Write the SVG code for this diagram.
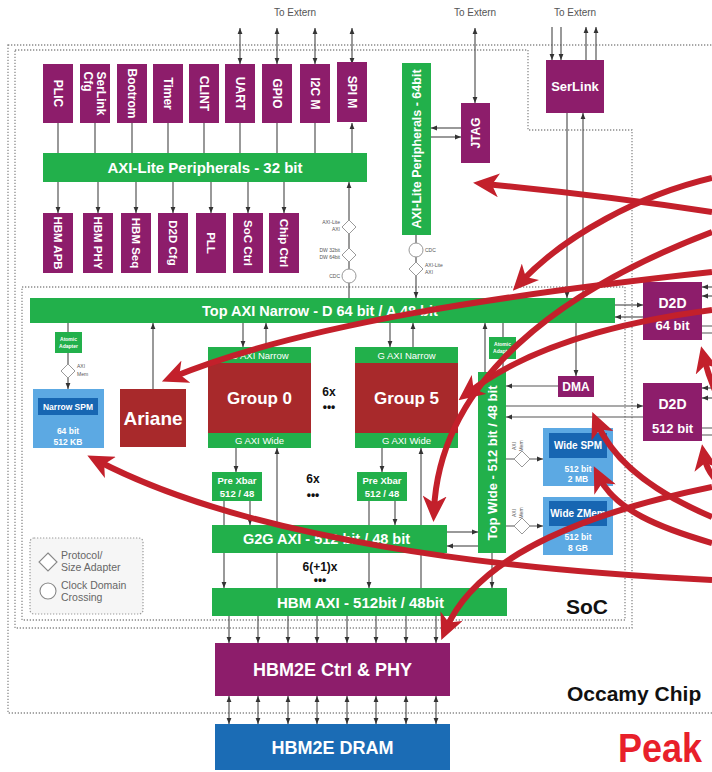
<svg xmlns="http://www.w3.org/2000/svg" width="712" height="772" viewBox="0 0 712 772">
<defs>
<marker id="ah" viewBox="0 0 10 10" refX="10" refY="5" markerWidth="6" markerHeight="6" markerUnits="userSpaceOnUse" orient="auto-start-reverse"><path d="M0,1 L10,5 L0,9 z" fill="#333"/></marker>
<marker id="ra" viewBox="0 0 26 24" refX="14" refY="12" markerWidth="26" markerHeight="24" markerUnits="userSpaceOnUse" orient="auto"><path d="M0,0 L26,12 L0,24 L7,12 z" fill="#c3202b"/></marker>
</defs>
<style>
.pu{fill:#8d1d6b}
.gr{fill:#22b04b}
.rd{fill:#a8292b}
.lb{fill:#5ca9e3}
.db{fill:#1766b2}
text{font-family:"Liberation Sans",Arial,sans-serif}
.w{fill:#fff;font-weight:bold;text-anchor:middle}
.wn{fill:#fff;text-anchor:middle}
.c{fill:none;stroke:#555;stroke-width:1.2;marker-end:url(#ah)}
.l{fill:none;stroke:#555;stroke-width:1.2}
.b{marker-start:url(#ah)}
.dot{fill:none;stroke:#8a8a8a;stroke-width:1.3;stroke-dasharray:1.3 1.7}
.ad{fill:#fff;stroke:#999;stroke-width:1}
.t{fill:#555;font-size:5px}
.k{fill:#111;font-weight:bold;text-anchor:middle}
.red{fill:none;stroke:#c3202b;stroke-width:6;marker-end:url(#ra)}
</style>
<rect width="712" height="772" fill="#fff"/>

<g id="borders">
<rect class="dot" x="8" y="45" width="720" height="668"/>
<path class="dot" d="M15,50 H528 V130 H632 V628 H15 Z"/>
<rect class="dot" x="22" y="287" width="603" height="333"/>
</g>

<g id="labels">
<text x="295" y="16" font-size="10" fill="#555" text-anchor="middle">To Extern</text>
<text x="475" y="16" font-size="10" fill="#555" text-anchor="middle">To Extern</text>
<text x="575" y="16" font-size="10" fill="#555" text-anchor="middle">To Extern</text>
<text x="566" y="614" font-size="21" font-weight="bold" fill="#111">SoC</text>
<text x="567" y="701" font-size="21" font-weight="bold" fill="#111">Occamy Chip</text>
<text x="618" y="762" font-size="40" font-weight="bold" fill="#e8202a" textLength="84" lengthAdjust="spacingAndGlyphs">Peak</text>
<text class="k" x="329" y="396" font-size="12">6x</text>
<text class="k" x="329" y="411" font-size="12">•••</text>
<text class="k" x="313" y="483" font-size="12">6x</text>
<text class="k" x="313" y="499" font-size="12">•••</text>
<text class="k" x="320" y="571" font-size="12">6(+1)x</text>
<text class="k" x="320" y="584" font-size="12">•••</text>
</g>

<g id="connectors">
<path class="c" d="M58,153V123M95,153V123M132,153V123M168,153V123M204,153V123M240,153V123M277,153V123M315,153V123M352,153V123"/>
<path class="c b" d="M240,28V64"/><path class="c b" d="M277,28V64"/><path class="c b" d="M315,28V64"/><path class="c b" d="M352,28V64"/>
<path class="c" d="M58,182V213"/><path class="c" d="M98,182V213"/><path class="c" d="M136,182V213"/><path class="c" d="M173,182V213"/><path class="c" d="M211,182V213"/><path class="c" d="M248,182V213"/><path class="c" d="M284,182V213"/>
<path class="c" d="M349,298V182"/>
<path class="c b" d="M475,28V103"/>
<path class="c" d="M461,128H431"/><path class="c" d="M431,137H461"/>
<path class="c" d="M416,235V298"/>
<path class="c" d="M552,27V60"/><path class="c" d="M561,27V60"/><path class="c" d="M586,60V27"/><path class="c" d="M596,60V27"/>
<path class="c" d="M567,113V298"/><path class="c" d="M583,298V113"/>
<path class="c" d="M615,305H643"/><path class="c" d="M643,317H615"/>
<path class="c" d="M712,287H702"/><path class="c" d="M712,296H702"/><path class="l" d="M702,326H712M702,333H712"/>
<path class="c" d="M712,388H702"/><path class="c" d="M712,398H702"/><path class="l" d="M702,428H712M702,435H712"/>
<path class="c" d="M506,406H643"/><path class="c" d="M643,417H506"/>
<path class="c" d="M576,323V376"/><path class="c" d="M558,386H506"/>
<path class="c" d="M485,372V323"/><path class="l" d="M503,323V337M503,359V372"/>
<path class="c" d="M506,459H543"/><path class="c" d="M506,526H543"/>
<path class="c" d="M243,323V347"/><path class="c" d="M266,347V323"/><path class="c" d="M390,323V347"/><path class="c" d="M413,347V323"/>
<path class="c" d="M236,448V472"/><path class="c" d="M382,448V472"/>
<path class="c" d="M277,588V448"/><path class="c" d="M421,588V448"/>
<path class="c" d="M224,501V588"/><path class="c" d="M250,501V525"/><path class="c" d="M369,501V588"/><path class="c" d="M395,501V525"/>
<path class="c" d="M447,532H478"/><path class="c" d="M478,546H447"/>
<path class="c" d="M492,553V588"/>
<path class="c" d="M229,616V643"/><path class="c" d="M258,616V643"/><path class="c" d="M288,616V643"/><path class="c" d="M317,616V643"/><path class="c" d="M347,616V643"/><path class="c" d="M376,616V643"/><path class="c" d="M406,616V643"/><path class="c" d="M436,616V643"/>
<path class="c b" d="M229,696V724"/><path class="c b" d="M258,696V724"/><path class="c b" d="M288,696V724"/><path class="c b" d="M317,696V724"/><path class="c b" d="M347,696V724"/><path class="c b" d="M376,696V724"/><path class="c b" d="M406,696V724"/><path class="c b" d="M436,696V724"/>
<path class="c" d="M153,389V323"/>
<path class="l" d="M68,323V332"/><path class="c" d="M68,353V389"/>
</g>

<g id="adapters">
<polygon class="ad" points="349,220 356,227 349,234 342,227"/>
<polygon class="ad" points="349,248 356,255 349,262 342,255"/>
<circle class="ad" cx="349" cy="276" r="7"/>
<text class="t" x="340" y="224" text-anchor="end">AXI-Lite</text><text class="t" x="340" y="231" text-anchor="end">AXI</text>
<text class="t" x="340" y="252" text-anchor="end">DW 32bit</text><text class="t" x="340" y="259" text-anchor="end">DW 64bit</text>
<text class="t" x="340" y="278" text-anchor="end">CDC</text>
<circle class="ad" cx="416" cy="250" r="7"/>
<polygon class="ad" points="416,262 423,269 416,276 409,269"/>
<text class="t" x="425" y="252">CDC</text>
<text class="t" x="425" y="267">AXI-Lite</text><text class="t" x="425" y="274">AXI</text>
<polygon class="ad" points="68,364 75,371 68,378 61,371"/>
<text class="t" x="77" y="368">AXI</text><text class="t" x="77" y="376">Mem</text>
<polygon class="ad" points="522,451 530,459 522,467 514,459"/>
<text class="t" transform="translate(516,446) rotate(-90)" text-anchor="middle">AXI</text>
<text class="t" transform="translate(523,446) rotate(-90)" text-anchor="middle">Mem</text>
<polygon class="ad" points="522,518 530,526 522,534 514,526"/>
<text class="t" transform="translate(516,513) rotate(-90)" text-anchor="middle">AXI</text>
<text class="t" transform="translate(523,513) rotate(-90)" text-anchor="middle">Mem</text>
</g>

<g id="plic"><rect class="pu" x="43" y="64" width="30" height="59"/><text class="w" font-size="12" transform="translate(58,93.5) rotate(90)" y="4.2">PLIC</text></g>
<g id="serlink-cfg"><rect class="pu" x="80" y="64" width="30" height="59"/><text class="w" font-size="12" transform="translate(95,93.5) rotate(90)" style="text-anchor:start"><tspan x="-22" y="-2">SerLink</tspan><tspan x="-22" y="11">Cfg</tspan></text></g>
<g id="bootrom"><rect class="pu" x="117" y="64" width="30" height="59"/><text class="w" font-size="12" transform="translate(132,93.5) rotate(90)" y="4.2">Bootrom</text></g>
<g id="timer"><rect class="pu" x="153" y="64" width="30" height="59"/><text class="w" font-size="12" transform="translate(168,93.5) rotate(90)" y="4.2">Timer</text></g>
<g id="clint"><rect class="pu" x="189" y="64" width="30" height="59"/><text class="w" font-size="12" transform="translate(204,93.5) rotate(90)" y="4.2">CLINT</text></g>
<g id="uart"><rect class="pu" x="225" y="64" width="30" height="59"/><text class="w" font-size="12" transform="translate(240,93.5) rotate(90)" y="4.2">UART</text></g>
<g id="gpio"><rect class="pu" x="262" y="64" width="30" height="59"/><text class="w" font-size="12" transform="translate(277,93.5) rotate(90)" y="4.2">GPIO</text></g>
<g id="i2cm"><rect class="pu" x="300" y="64" width="30" height="59"/><text class="w" font-size="12" transform="translate(315,93.5) rotate(90)" y="4.2">I2C M</text></g>
<g id="spim"><rect class="pu" x="337" y="62" width="30" height="60"/><text class="w" font-size="12" transform="translate(352,92) rotate(90)" y="4.2">SPI M</text></g>

<g id="axilite32"><rect class="gr" x="43" y="153" width="324" height="29"/><text class="w" font-size="15" x="205" y="172.5">AXI-Lite Peripherals - 32 bit</text></g>

<g id="hbm-apb"><rect class="pu" x="43" y="213" width="30" height="60"/><text class="w" font-size="11.5" transform="translate(58,243) rotate(90)" y="4">HBM APB</text></g>
<g id="hbm-phy"><rect class="pu" x="83" y="213" width="30" height="60"/><text class="w" font-size="11.5" transform="translate(98,243) rotate(90)" y="4">HBM PHY</text></g>
<g id="hbm-seq"><rect class="pu" x="121" y="213" width="30" height="60"/><text class="w" font-size="11.5" transform="translate(136,243) rotate(90)" y="4">HBM Seq</text></g>
<g id="d2d-cfg"><rect class="pu" x="158" y="213" width="30" height="60"/><text class="w" font-size="11.5" transform="translate(173,243) rotate(90)" y="4">D2D Cfg</text></g>
<g id="pll"><rect class="pu" x="196" y="213" width="30" height="60"/><text class="w" font-size="11.5" transform="translate(211,243) rotate(90)" y="4">PLL</text></g>
<g id="soc-ctrl"><rect class="pu" x="233" y="213" width="30" height="60"/><text class="w" font-size="11.5" transform="translate(248,243) rotate(90)" y="4">SoC Ctrl</text></g>
<g id="chip-ctrl"><rect class="pu" x="269" y="213" width="30" height="60"/><text class="w" font-size="11.5" transform="translate(284,243) rotate(90)" y="4">Chip Ctrl</text></g>

<g id="axilite64"><rect class="gr" x="402" y="63" width="29" height="172"/><text class="w" font-size="12.5" transform="translate(416.5,149) rotate(-90)" y="4.4">AXI-Lite Peripherals - 64bit</text></g>
<g id="jtag"><rect class="pu" x="461" y="103" width="29" height="60"/><text class="w" font-size="12" transform="translate(475.5,133) rotate(-90)" y="4.2">JTAG</text></g>
<g id="serlink"><rect class="pu" x="546" y="60" width="58" height="53"/><text class="w" font-size="13" x="575" y="91">SerLink</text></g>

<g id="top-axi-narrow"><rect class="gr" x="30" y="298" width="585" height="25"/><text class="w" font-size="14.5" x="202" y="315.5" style="text-anchor:start">Top AXI Narrow - D 64 bit / A 48 bit</text></g>
<g id="d2d-64"><rect class="pu" x="643" y="282" width="59" height="58"/><text class="w" font-size="14" x="672.5" y="308">D2D</text><text class="w" font-size="13" x="672.5" y="330">64 bit</text></g>
<g id="d2d-512"><rect class="pu" x="643" y="383" width="59" height="58"/><text class="w" font-size="14" x="672.5" y="409">D2D</text><text class="w" font-size="13" x="672.5" y="433">512 bit</text></g>
<g id="dma"><rect class="pu" x="558" y="376" width="36" height="21"/><text class="w" font-size="12" x="576" y="390.5">DMA</text></g>

<g id="atomic-left"><rect class="gr" x="55" y="332" width="27" height="21"/><text class="w" font-size="5"><tspan x="68.5" y="341">Atomic</tspan><tspan x="68.5" y="348">Adapter</tspan></text></g>
<g id="atomic-right"><rect class="gr" x="489" y="337" width="27" height="22"/><text class="w" font-size="5"><tspan x="502.5" y="346">Atomic</tspan><tspan x="502.5" y="353">Adapter</tspan></text></g>

<g id="narrow-spm"><rect class="lb" x="33" y="389" width="71" height="59"/><rect class="db" x="38" y="398" width="60" height="17"/><text class="w" font-size="8.5" x="68" y="409.5">Narrow SPM</text><text class="w" font-size="8.5" x="68" y="434">64 bit</text><text class="w" font-size="8.5" x="68" y="445">512 KB</text></g>
<g id="ariane"><rect class="rd" x="120" y="389" width="66" height="58"/><text class="w" font-size="19" x="153" y="425">Ariane</text></g>

<g id="group0"><rect class="gr" x="208" y="347" width="103" height="101"/><rect class="rd" x="208" y="363" width="103" height="70"/><text class="wn" font-size="9.5" x="259.5" y="358.5">G AXI Narrow</text><text class="w" font-size="17" x="259.5" y="404">Group 0</text><text class="wn" font-size="9.5" x="259.5" y="444">G AXI Wide</text></g>
<g id="group5"><rect class="gr" x="355" y="347" width="103" height="101"/><rect class="rd" x="355" y="363" width="103" height="70"/><text class="wn" font-size="9.5" x="406.5" y="358.5">G AXI Narrow</text><text class="w" font-size="17" x="406.5" y="404">Group 5</text><text class="wn" font-size="9.5" x="406.5" y="444">G AXI Wide</text></g>
<g id="prexbar0"><rect class="gr" x="212" y="472" width="50" height="29"/><text class="w" font-size="9.5"><tspan x="237" y="484">Pre Xbar</tspan><tspan x="237" y="497">512 / 48</tspan></text></g>
<g id="prexbar5"><rect class="gr" x="357" y="472" width="50" height="29"/><text class="w" font-size="9.5"><tspan x="382" y="484">Pre Xbar</tspan><tspan x="382" y="497">512 / 48</tspan></text></g>

<g id="top-wide"><rect class="gr" x="478" y="372" width="28" height="181"/><text class="w" font-size="13" transform="translate(492,463) rotate(-90)" y="4.6">Top Wide - 512 bit / 48 bit</text></g>
<g id="wide-spm"><rect class="lb" x="543" y="428" width="70" height="58"/><rect class="db" x="549" y="433" width="58" height="25"/><text class="w" font-size="10" x="578" y="449">Wide SPM</text><text class="w" font-size="8.5" x="578" y="472">512 bit</text><text class="w" font-size="8.5" x="578" y="482">2 MB</text></g>
<g id="wide-zmem"><rect class="lb" x="543" y="497" width="70" height="58"/><rect class="db" x="549" y="501" width="58" height="25"/><text class="w" font-size="10" x="578" y="517">Wide ZMem</text><text class="w" font-size="8.5" x="578" y="540">512 bit</text><text class="w" font-size="8.5" x="578" y="551">8 GB</text></g>

<g id="g2g"><rect class="gr" x="212" y="525" width="235" height="28"/><text class="w" font-size="14.5" x="243" y="544" style="text-anchor:start">G2G AXI - 512 bit / 48 bit</text></g>
<g id="hbm-axi"><rect class="gr" x="212" y="588" width="295" height="28"/><text class="w" font-size="15" x="277" y="607.5" style="text-anchor:start">HBM AXI - 512bit / 48bit</text></g>
<g id="hbm-ctrl"><rect class="pu" x="215" y="643" width="235" height="53"/><text class="w" font-size="18" x="332.5" y="676">HBM2E Ctrl &amp; PHY</text></g>
<g id="hbm-dram"><rect fill="#1b6cb5" x="215" y="724" width="235" height="46"/><text class="w" font-size="18" x="332.5" y="753.5">HBM2E DRAM</text></g>

<g id="legend"><rect x="30" y="538" width="113" height="76" rx="4" fill="#f6f6f6" stroke="#999" stroke-width="1.2" stroke-dasharray="1.3 1.7"/>
<polygon points="48,553 57,562 48,571 39,562" fill="#fff" stroke="#888" stroke-width="1.1"/>
<circle cx="48" cy="591" r="8" fill="#fff" stroke="#888" stroke-width="1.1"/>
<text font-size="10.5" fill="#666"><tspan x="61" y="559">Protocol/</tspan><tspan x="61" y="571">Size Adapter</tspan><tspan x="61" y="589">Clock Domain</tspan><tspan x="61" y="601">Crossing</tspan></text>
</g>

<g id="callouts">
<path class="red" d="M712,212 Q600,195 485,184"/>
<path class="red" d="M712,178 C640,195 565,235 521,282"/>
<path class="red" d="M712,272 C500,295 300,325 173,377"/>
<path class="red" d="M712,310 C620,322 530,345 468,393"/>
<path class="red" d="M712,232 C560,290 440,380 434,510"/>
<path class="red" d="M712,580 C500,570 250,540 98,461"/>
<path class="red" d="M712,487 C600,510 480,550 446,629"/>
<path class="red" d="M712,543 C660,528 615,510 599,477"/>
<path class="red" d="M712,517 C660,495 615,465 597,423"/>
<path class="red" d="M730,420 Q712,390 704,358"/>
<path class="red" d="M740,500 Q708,480 704,456"/>
</g>
</svg>
